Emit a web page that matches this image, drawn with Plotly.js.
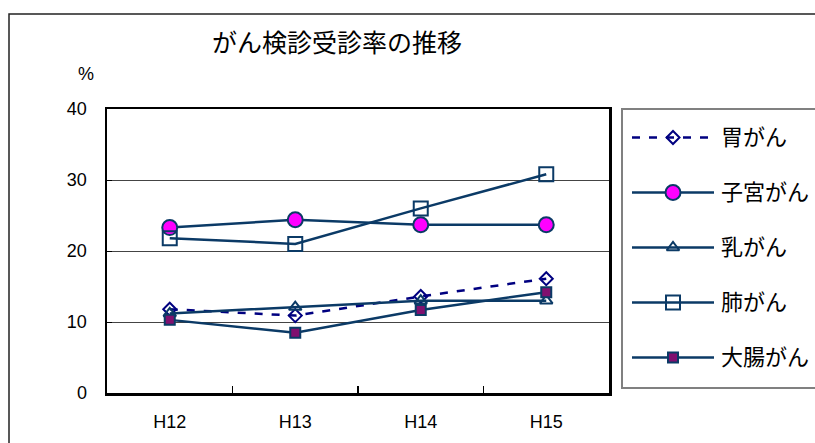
<!DOCTYPE html>
<html>
<head>
<meta charset="utf-8">
<script src="https://cdn.plot.ly/plotly-3.0.1.min.js"></script>
<style>
  html, body { margin: 0; padding: 0; background: #fff; }
  #chart { width: 815px; height: 443px; }
</style>
</head>
<body>
<div id="chart"></div>
<script>
// Fiscal years (Heisei)
const years = ['H12', 'H13', 'H14', 'H15'];

// Screening participation rate (%) by cancer type
const seriesNames = ['胃がん', '子宮がん', '乳がん', '肺がん', '大腸がん'];
const stomach = [11.8, 10.9, 13.6, 16.1];
const uterus  = [23.3, 24.4, 23.7, 23.7];
const breast  = [11.2, 12.1, 13.0, 13.0];
const lung    = [21.8, 21.0, 26.0, 30.8];
const colon   = [10.3, 8.5, 11.7, 14.2];

const yTicks = [0, 10, 20, 30, 40];

const W = 815, H = 443;
const NAVY = '#0b3a66';
const FONT = 'Liberation Sans, Arial, "Noto Sans CJK JP", sans-serif';

const styles = [
  { line: { color: '#000080', width: 2.5, dash: '8px,9px' },
    marker: { symbol: 'diamond-open', size: 10, color: '#000080', line: { color: '#000080', width: 2 } } },
  { line: { color: NAVY, width: 2.5 },
    marker: { symbol: 'circle', size: 15, color: '#ff00ff', line: { color: NAVY, width: 2 } } },
  { line: { color: NAVY, width: 2.5 },
    marker: { symbol: 'triangle-up-open', size: 11, color: NAVY, line: { color: NAVY, width: 2 } } },
  { line: { color: NAVY, width: 2.5 },
    marker: { symbol: 'square-open', size: 14, color: NAVY, line: { color: NAVY, width: 2 } } },
  { line: { color: NAVY, width: 2.5 },
    marker: { symbol: 'square', size: 10, color: '#80106f', line: { color: NAVY, width: 2 } } }
];

const values = [stomach, uterus, breast, lung, colon];

const traces = [];
values.forEach((v, i) => {
  traces.push({
    type: 'scatter', mode: 'lines+markers',
    x: years, y: v, name: seriesNames[i],
    xaxis: 'x', yaxis: 'y',
    line: styles[i].line, marker: styles[i].marker,
    showlegend: false, hoverinfo: 'skip'
  });
});

// Key samples: short line with the series marker in the middle
seriesNames.forEach((n, i) => {
  traces.push({
    type: 'scatter', mode: 'lines+markers',
    x: [0, 1, 2], y: [i, i, i],
    xaxis: 'x2', yaxis: 'y2',
    line: styles[i].line,
    marker: Object.assign({}, styles[i].marker, { opacity: [0, 1, 0] }),
    showlegend: false, hoverinfo: 'skip'
  });
});

// pixel helpers for domains
const px = v => v / W;
const py = v => 1 - v / H;

const annotations = seriesNames.map((n, i) => ({
  text: n, xref: 'x2', yref: 'y2', x: 2, y: i,
  xanchor: 'left', yanchor: 'middle', xshift: 5, showarrow: false,
  font: { family: FONT, size: 22, color: '#000' }
}));
annotations.push({
  text: '%', xref: 'paper', yref: 'paper', x: px(86), y: py(74),
  xanchor: 'center', yanchor: 'middle', showarrow: false,
  font: { family: FONT, size: 18, color: '#000' }
});

const layout = {
  width: W, height: H,
  margin: { l: 0, r: 0, t: 0, b: 0 },
  paper_bgcolor: '#fff', plot_bgcolor: '#fff',
  font: { family: FONT, color: '#000' },
  title: {
    text: 'がん検診受診率の推移',
    x: px(337), xanchor: 'center', xref: 'paper',
    y: py(43), yanchor: 'middle', yref: 'container',
    font: { family: FONT, size: 25, color: '#000' }
  },
  xaxis: {
    type: 'category', domain: [px(107), px(609)], range: [-0.5, 3.5],
    showline: true, linecolor: '#000', linewidth: 2.5, mirror: true,
    ticks: 'inside', tickson: 'boundaries', ticklen: 7, tickwidth: 1.5, tickcolor: '#000',
    showgrid: false, zeroline: false, fixedrange: true,
    tickfont: { family: FONT, size: 18, color: '#000' },
    ticklabelstandoff: 11
  },
  yaxis: {
    domain: [py(393), py(109)], range: [0, 40],
    tickvals: yTicks, ticktext: yTicks.map(String),
    showline: true, linecolor: '#000', linewidth: 2.5, mirror: true,
    ticks: 'inside', ticklen: 5, tickwidth: 1, tickcolor: '#000',
    showgrid: true, gridcolor: '#444', gridwidth: 1, zeroline: false, fixedrange: true,
    tickfont: { family: FONT, size: 18, color: '#000' },
    ticklabelstandoff: 14
  },
  xaxis2: {
    domain: [px(632), px(714)], range: [0, 2], anchor: 'y2',
    visible: false, fixedrange: true
  },
  yaxis2: {
    domain: [py(385), py(110)], range: [4.5, -0.5], anchor: 'x2',
    visible: false, fixedrange: true
  },
  shapes: [
    { type: 'rect', xref: 'paper', yref: 'paper',
      x0: px(9), y0: py(14), x1: 1.02, y1: -0.02,
      line: { color: '#222', width: 1.5 }, layer: 'below' },
    { type: 'rect', xref: 'paper', yref: 'paper',
      x0: px(622), y0: py(109), x1: 1.02, y1: py(388),
      line: { color: '#808080', width: 2 }, layer: 'below' }
  ],
  annotations: annotations
};

Plotly.newPlot('chart', traces, layout, { staticPlot: true, displayModeBar: false });
</script>
</body>
</html>
